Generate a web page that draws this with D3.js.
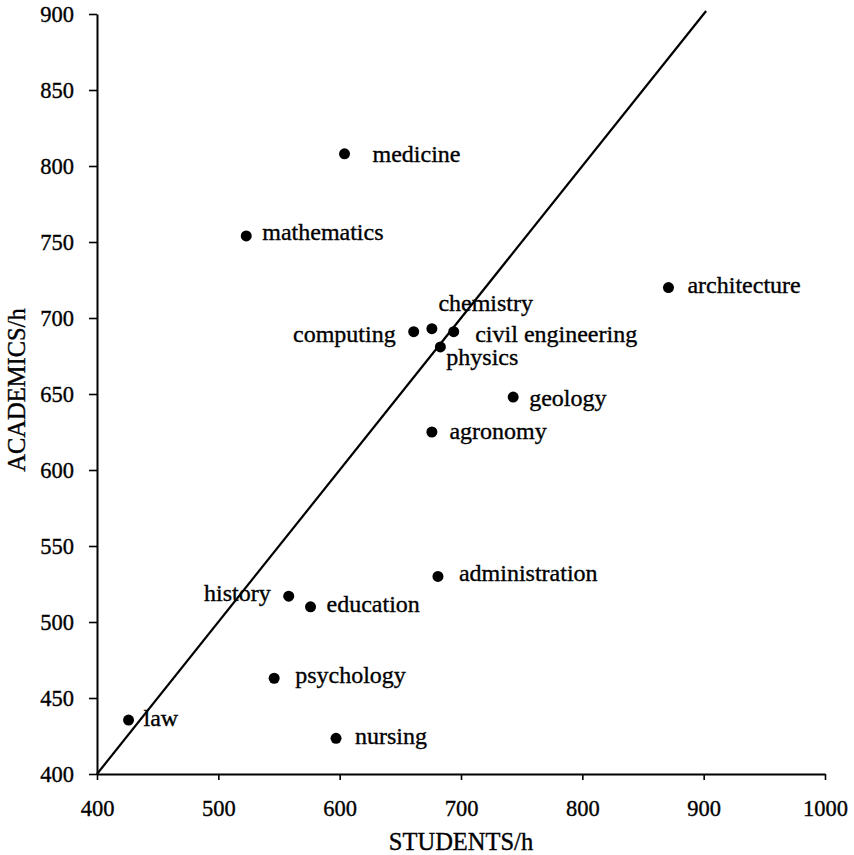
<!DOCTYPE html>
<html>
<head>
<meta charset="utf-8">
<script src="https://cdn.jsdelivr.net/npm/d3@7"></script>
<style>
  html, body { margin: 0; padding: 0; background: #fff; }
  svg { display: block; }
  text { font-family: "Liberation Serif", "DejaVu Serif", serif; fill: #000; stroke: #000; stroke-width: 0.35px; }
</style>
</head>
<body>
<svg id="chart" width="854" height="855"></svg>
<script>
// ---- data ----
const subjects = ["medicine", "mathematics", "architecture", "computing", "chemistry",
  "civil engineering", "physics", "geology", "agronomy", "administration",
  "history", "education", "psychology", "nursing", "law"];
const students = [604, 523, 871, 661, 676, 694, 683, 743, 676, 681, 558, 576, 546, 597, 426];
const academics = [808, 754, 720, 691, 693, 691, 681, 648, 625, 530, 517, 510, 463, 423.5, 435.5];
const xTicks = [400, 500, 600, 700, 800, 900, 1000];
const yTicks = [400, 450, 500, 550, 600, 650, 700, 750, 800, 850, 900];
const diagonal = [[400, 400], [902, 902]];

// ---- label layout (pixel offsets from the dot) ----
const labelLayout = {
  "medicine": [28, 8, "start"],
  "mathematics": [16, 4.5, "start"],
  "architecture": [19, 5, "start"],
  "computing": [-18, 10, "end"],
  "chemistry": [6.5, -18, "start"],
  "civil engineering": [21.5, 10.5, "start"],
  "physics": [6, 18.5, "start"],
  "geology": [16, 8.5, "start"],
  "agronomy": [17.5, 6.5, "start"],
  "administration": [21, 5, "start"],
  "history": [-18, 5, "end"],
  "education": [16, 5, "start"],
  "psychology": [21, 5, "start"],
  "nursing": [19, 6, "start"],
  "law": [15, 6, "start"]
};

const svg = d3.select("#chart");
const x = d3.scaleLinear().domain([400, 1000]).range([97, 825]);
const y = d3.scaleLinear().domain([400, 900]).range([774, 14]);

// axes
const xAxis = svg.append("g").attr("transform", `translate(0,${y(400)})`)
  .call(d3.axisBottom(x).tickValues(xTicks).tickSize(6).tickSizeOuter(0).tickPadding(20).tickFormat(d3.format("d")));
const yAxis = svg.append("g").attr("transform", `translate(${x(400)},0)`)
  .call(d3.axisLeft(y).tickValues(yTicks).tickSize(8).tickSizeOuter(0).tickPadding(15).tickFormat(d3.format("d")));
[xAxis, yAxis].forEach(g => {
  g.select(".domain").attr("stroke", "#000").attr("stroke-width", 2);
  g.selectAll(".tick line").attr("stroke", "#000").attr("stroke-width", 1.6);
  g.selectAll(".tick text").style("font-family", "'Liberation Serif', serif").style("font-size", "22.5px")
    .attr("fill", "#000").attr("stroke", "#000").attr("stroke-width", 0.35);
});

// diagonal line
svg.append("path")
  .datum(diagonal)
  .attr("d", d3.line().x(d => x(d[0])).y(d => y(d[1])))
  .attr("stroke", "#000").attr("stroke-width", 2.2).attr("fill", "none");

// points
const pts = subjects.map((s, i) => ({ name: s, sx: students[i], ay: academics[i] }));
svg.append("g").selectAll("circle").data(pts).join("circle")
  .attr("cx", d => x(d.sx)).attr("cy", d => y(d.ay)).attr("r", 5.5).attr("fill", "#000");

svg.append("g").selectAll("text").data(pts).join("text")
  .attr("x", d => x(d.sx) + labelLayout[d.name][0])
  .attr("y", d => y(d.ay) + labelLayout[d.name][1])
  .attr("text-anchor", d => labelLayout[d.name][2])
  .style("font-size", "24px")
  .text(d => d.name);

// axis titles
svg.append("text").attr("x", 461).attr("y", 850).attr("text-anchor", "middle")
  .style("font-size", "24.5px").text("STUDENTS/h");
svg.append("text").attr("transform", "translate(25,390) rotate(-90)").attr("text-anchor", "middle")
  .style("font-size", "24.5px").text("ACADEMICS/h");
</script>
</body>
</html>
